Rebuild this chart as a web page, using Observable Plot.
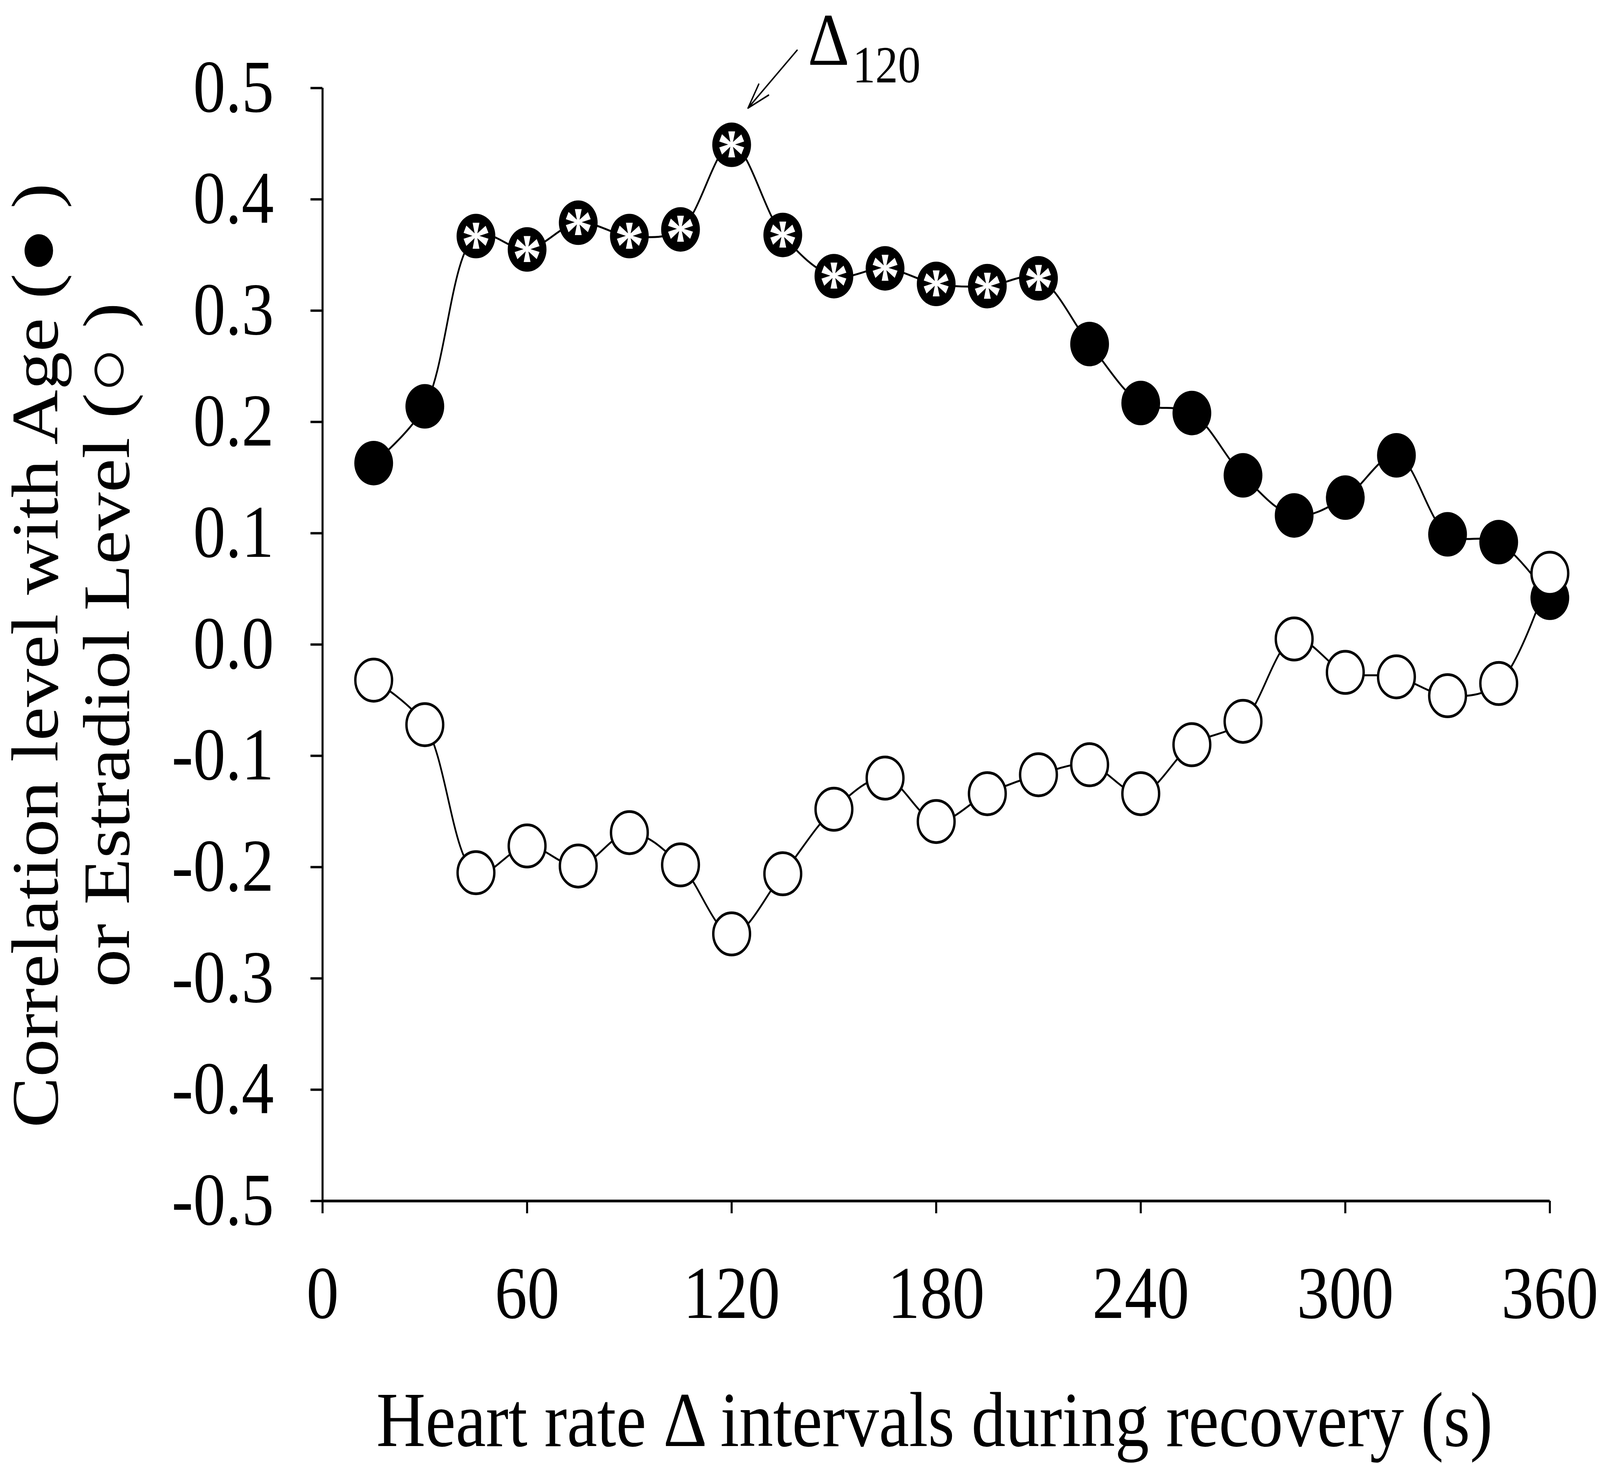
<!DOCTYPE html>
<html>
<head>
<meta charset="utf-8">
<script src="https://cdn.jsdelivr.net/npm/d3@7"></script>
<script src="https://cdn.jsdelivr.net/npm/@observablehq/plot@0.6"></script>
<style>
  html, body { margin: 0; padding: 0; background: #fff; width: 100vw; height: 100vh; overflow: hidden; }
  #chart { width: 100vw; height: 100vh; }
  #chart svg { display: block; }
</style>
</head>
<body>
<div id="chart"></div>
<script>
// Recovery interval (s)
const intervals = [15, 30, 45, 60, 75, 90, 105, 120, 135, 150, 165, 180, 195, 210, 225, 240, 255, 270, 285, 300, 315, 330, 345, 360];
// Correlation with Age (filled circles)
const ageCorr = [0.163, 0.214, 0.367, 0.355, 0.379, 0.367, 0.373, 0.449, 0.368, 0.331, 0.338, 0.324, 0.322, 0.329, 0.270, 0.217, 0.208, 0.152, 0.116, 0.132, 0.170, 0.099, 0.092, 0.042];
// Correlation with Estradiol level (open circles)
const estradiolCorr = [-0.032, -0.072, -0.205, -0.181, -0.199, -0.169, -0.198, -0.260, -0.206, -0.148, -0.120, -0.159, -0.134, -0.117, -0.108, -0.134, -0.090, -0.069, 0.005, -0.025, -0.029, -0.046, -0.035, 0.064];
// Significant age correlations (asterisks)
const significant = [45, 60, 75, 90, 105, 120, 135, 150, 165, 180, 195, 210];

const xTicks = [0, 60, 120, 180, 240, 300, 360];
const yTicks = [-0.5, -0.4, -0.3, -0.2, -0.1, 0.0, 0.1, 0.2, 0.3, 0.4, 0.5];

const xTitle = "Heart rate \u0394 intervals during recovery (s)";
const yTitle1 = "Correlation level with Age (\u25CF )";
const yTitle2 = "or Estradiol Level (\u25CB )";
const peakLabel = "\u0394";
const peakSub = "120";

const age = intervals.map((x, i) => ({x, y: ageCorr[i]}));
const est = intervals.map((x, i) => ({x, y: estradiolCorr[i]}));
const stars = age.filter(d => significant.includes(d.x));
const peak = age[intervals.indexOf(120)];
const arrowData = [{x1: 139.2, y1: 0.534, x2: 124.8, y2: 0.482}];

const FONT = "'Liberation Serif', 'Times New Roman', serif";
const W = 4705, H = 3749;

const chart = Plot.plot({
  width: W,
  height: H,
  marginLeft: 948,
  marginRight: 148,
  marginTop: 225,
  marginBottom: 674,
  style: {fontFamily: FONT, fontSize: "190px", background: "white", color: "black"},
  x: {domain: [0, 360]},
  y: {domain: [-0.5, 0.5]},
  marks: [
    Plot.axisX({ticks: xTicks, tickSize: 32, tickPadding: 133, strokeWidth: 6, fontSize: 190, label: null, tickFormat: d => String(d)}),
    Plot.axisY({ticks: yTicks, tickSize: 35, tickPadding: 108, strokeWidth: 6, fontSize: 190, label: null, tickFormat: d => d.toFixed(1)}),
    Plot.ruleX([0], {strokeWidth: 6}),
    Plot.ruleY([-0.5], {strokeWidth: 7}),
    Plot.line(est, {x: "x", y: "y", curve: "catmull-rom", stroke: "black", strokeWidth: 5}),
    Plot.line(age, {x: "x", y: "y", curve: "catmull-rom", stroke: "black", strokeWidth: 5}),
    Plot.dot(age, {x: "x", y: "y", r: 57, fill: "black", stroke: "none"}),
    Plot.text(stars, {x: "x", y: "y", text: () => "*", fill: "white", fontSize: 175, fontWeight: "bold", dy: 26}),
    Plot.dot(est, {x: "x", y: "y", r: 54, fill: "white", stroke: "black", strokeWidth: 7}),
    Plot.arrow(arrowData, {x1: "x1", y1: "y1", x2: "x2", y2: "y2", stroke: "black", strokeWidth: 4, headLength: 30, headAngle: 34}),
    Plot.text([peak], {x: "x", y: "y", text: () => peakLabel, textAnchor: "start", lineAnchor: "bottom", fontSize: 190, dx: 224, dy: -205}),
    Plot.text([peak], {x: "x", y: "y", text: () => peakSub, textAnchor: "start", lineAnchor: "bottom", fontSize: 133, dx: 356, dy: -160}),
    Plot.text([yTitle1], {frameAnchor: "left", text: d => d, rotate: -90, lineAnchor: "bottom", textAnchor: "middle", fontSize: 195, dx: -780, dy: 28}),
    Plot.text([yTitle2], {frameAnchor: "left", text: d => d, rotate: -90, lineAnchor: "bottom", textAnchor: "middle", fontSize: 195, dx: -570, dy: 1}),
    Plot.text([xTitle], {frameAnchor: "bottom", text: d => d, lineAnchor: "bottom", textAnchor: "middle", fontSize: 200, dy: 627, dx: -5})
  ]
});
// Fill the browser window with the 4705×3749 drawing.
chart.setAttribute("viewBox", `0 0 ${W} ${H}`);
chart.setAttribute("preserveAspectRatio", "none");
chart.style.width = "100vw";
chart.style.height = "100vh";
chart.style.maxWidth = "none";
document.getElementById("chart").appendChild(chart);
</script>
</body>
</html>
